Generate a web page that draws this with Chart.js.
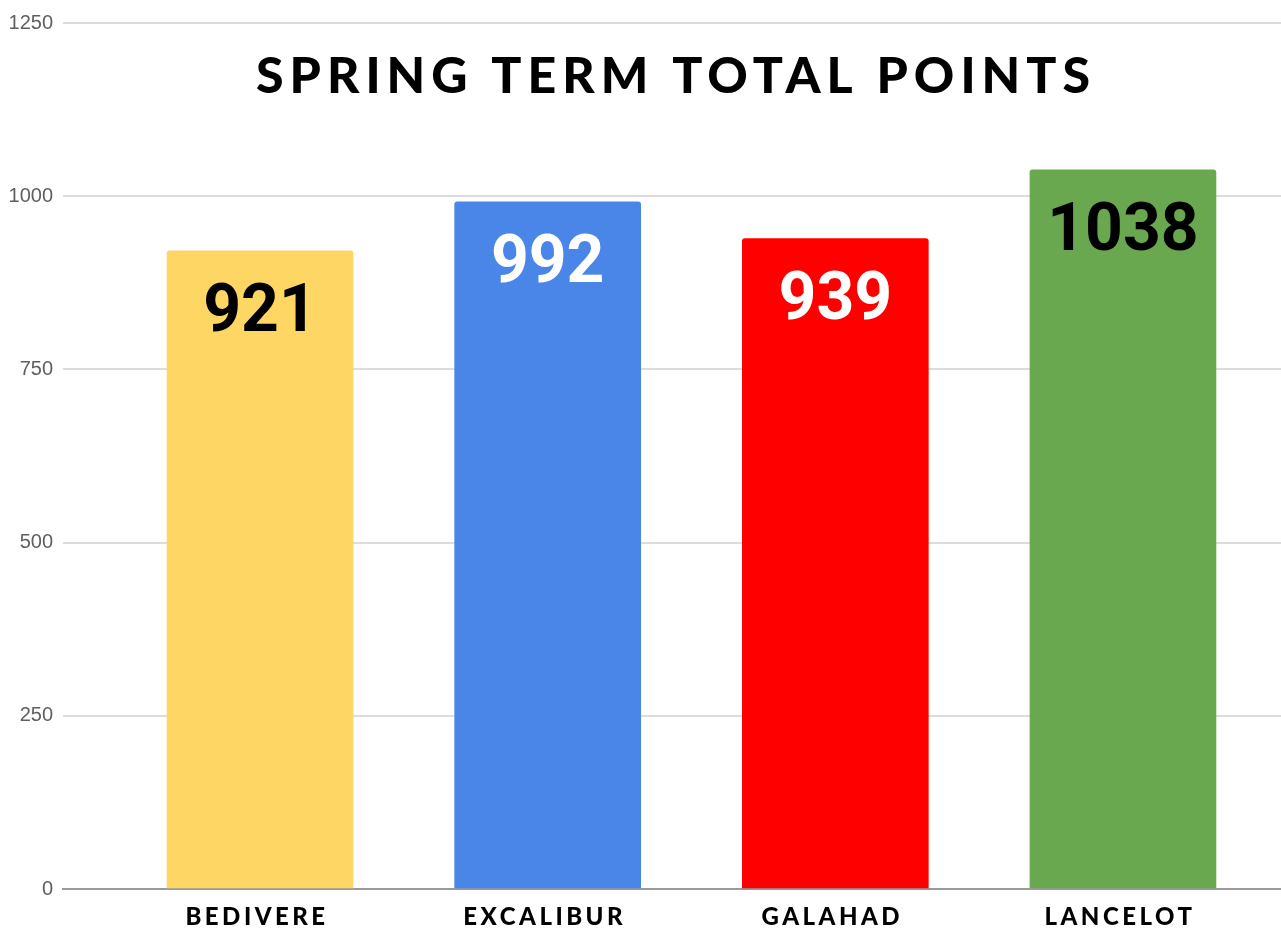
<!DOCTYPE html>
<html>
<head>
<meta charset="utf-8">
<script src="https://cdn.jsdelivr.net/npm/chart.js@4"></script>
<style>
  html, body { margin: 0; padding: 0; background: #fff; overflow: hidden; }
  #wrap { position: relative; width: 1281px; height: 928px; overflow: hidden; }
  #wrap canvas { position: absolute; left: 0; top: 0; }
</style>
</head>
<body>
<div id="wrap"><canvas id="bars" width="1320" height="928"></canvas></div>
<script>
const houses = ['BEDIVERE', 'EXCALIBUR', 'GALAHAD', 'LANCELOT'];
const points = [921, 992, 939, 1038];
const barColors = ['#fdd663', '#4a86e8', '#ff0000', '#6aa84f'];
const labelColors = ['#000000', '#ffffff', '#ffffff', '#000000'];
const yTicks = [0, 250, 500, 750, 1000, 1250];
const titleText = 'SPRING TERM TOTAL POINTS';

// value numbers inside the bars, house names under the axis, big title
const decor = {
  id: 'decor',
  afterDatasetsDraw(chart) {
    const ctx = chart.ctx;
    const meta = chart.getDatasetMeta(0);
    ctx.save();
    ctx.font = 'bold 66px Roboto, "Liberation Sans", sans-serif';
    ctx.textAlign = 'center';
    ctx.textBaseline = 'middle';
    meta.data.forEach((bar, i) => {
      ctx.fillStyle = labelColors[i];
      ctx.fillText(String(points[i]), bar.x, bar.y + 64);
    });
    ctx.restore();

    const xs = chart.scales.x;
    ctx.save();
    ctx.font = '900 24px Lato, "Open Sans", sans-serif';
    ctx.letterSpacing = '3.5px';
    ctx.textAlign = 'center';
    ctx.textBaseline = 'middle';
    ctx.fillStyle = '#000';
    houses.forEach((h, i) => {
      ctx.fillText(h, xs.getPixelForValue(i) - 3, 917);
    });
    ctx.restore();

    ctx.save();
    ctx.font = '900 50px Lato, "Open Sans", sans-serif';
    ctx.letterSpacing = '6px';
    ctx.textAlign = 'center';
    ctx.textBaseline = 'middle';
    ctx.fillStyle = '#000';
    ctx.fillText(titleText, 676, 77);
    ctx.restore();
  }
};

new Chart(document.getElementById('bars'), {
  type: 'bar',
  data: {
    datasets: [{
      data: points.map((v, i) => ({ x: i, y: v })),
      backgroundColor: barColors,
      barThickness: 186,
      borderRadius: 3,
      borderSkipped: 'bottom'
    }]
  },
  options: {
    responsive: false,
    animation: false,
    layout: { padding: { top: 23, right: 0, left: 0, bottom: 0 } },
    plugins: { legend: { display: false }, tooltip: { enabled: false } },
    scales: {
      x: {
        type: 'linear',
        offset: false,
        min: -0.685,
        max: 3.685,
        grid: { display: false },
        border: { display: true, color: '#9a9a9a', width: 2 },
        ticks: { display: false },
        afterFit(s) { s.height = 39; }
      },
      y: {
        min: 0,
        max: 1250,
        afterBuildTicks(s) { s.ticks = yTicks.map(v => ({ value: v })); },
        grid: { color: '#dcdcdc', lineWidth: 2, drawTicks: false },
        border: { display: false },
        ticks: {
          color: '#5f5f5f',
          padding: 10,
          font: { family: 'Arial, "Liberation Sans", sans-serif', size: 20 },
          callback: v => String(v)
        },
        afterFit(s) { s.width = 63; }
      }
    }
  },
  plugins: [decor]
});
</script>
</body>
</html>
